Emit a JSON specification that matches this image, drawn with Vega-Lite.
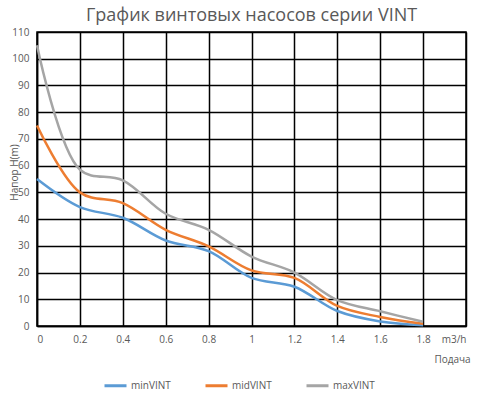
{
  "$schema": "https://vega.github.io/schema/vega-lite/v6.json",
  "autosize": "none",
  "width": 429,
  "height": 294,
  "padding": {"left": 37, "top": 32, "right": 19, "bottom": 91},
  "background": "white",
  "title": {
    "text": "График винтовых насосов серии VINT",
    "font": "Open Sans",
    "fontSize": 18,
    "fontWeight": "normal",
    "color": "#595959",
    "anchor": "middle",
    "offset": 2
  },
  "config": {
    "font": "Open Sans",
    "view": {"stroke": "black", "strokeWidth": 1.5}
  },
  "data": {
    "values": [
      {"q": 0, "h": 55, "s": "minVINT"},
      {"q": 0.2, "h": 44.5, "s": "minVINT"},
      {"q": 0.4, "h": 40.5, "s": "minVINT"},
      {"q": 0.6, "h": 32, "s": "minVINT"},
      {"q": 0.8, "h": 28, "s": "minVINT"},
      {"q": 1.0, "h": 18, "s": "minVINT"},
      {"q": 1.2, "h": 14.7, "s": "minVINT"},
      {"q": 1.4, "h": 5.6, "s": "minVINT"},
      {"q": 1.6, "h": 1.7, "s": "minVINT"},
      {"q": 1.8, "h": 0.3, "s": "minVINT"},
      {"q": 0, "h": 75, "s": "midVINT"},
      {"q": 0.2, "h": 50, "s": "midVINT"},
      {"q": 0.4, "h": 46, "s": "midVINT"},
      {"q": 0.6, "h": 36, "s": "midVINT"},
      {"q": 0.8, "h": 29.8, "s": "midVINT"},
      {"q": 1.0, "h": 20.8, "s": "midVINT"},
      {"q": 1.2, "h": 18, "s": "midVINT"},
      {"q": 1.4, "h": 7.5, "s": "midVINT"},
      {"q": 1.6, "h": 3.4, "s": "midVINT"},
      {"q": 1.8, "h": 0.8, "s": "midVINT"},
      {"q": 0, "h": 105, "s": "maxVINT"},
      {"q": 0.2, "h": 58.5, "s": "maxVINT"},
      {"q": 0.4, "h": 54.5, "s": "maxVINT"},
      {"q": 0.6, "h": 42, "s": "maxVINT"},
      {"q": 0.8, "h": 36, "s": "maxVINT"},
      {"q": 1.0, "h": 26, "s": "maxVINT"},
      {"q": 1.2, "h": 20, "s": "maxVINT"},
      {"q": 1.4, "h": 9.7, "s": "maxVINT"},
      {"q": 1.6, "h": 5.5, "s": "maxVINT"},
      {"q": 1.8, "h": 1.6, "s": "maxVINT"}
    ]
  },
  "mark": {"type": "line", "interpolate": "catmull-rom", "strokeWidth": 2.5},
  "encoding": {
    "x": {
      "field": "q",
      "type": "quantitative",
      "scale": {"domain": [0, 2], "nice": false},
      "axis": {
        "values": [0, 0.2, 0.4, 0.6, 0.8, 1, 1.2, 1.4, 1.6, 1.8, 2],
        "format": "~g",
        "labelExpr": "datum.value == 2 ? 'm3/h' : datum.label",
        "labelFontSize": 10,
        "labelColor": "#595959",
        "labelPadding": 8,
        "ticks": false,
        "domainColor": "black",
        "domainWidth": 1.5,
        "gridColor": "black",
        "gridWidth": 1.5,
        "gridOpacity": 1,
        "title": "Подача",
        "titleFontSize": 10,
        "titleFontWeight": "normal",
        "titleColor": "#595959",
        "titleX": 415,
        "titleY": 36,
        "titleAlign": "center",
        "titleBaseline": "alphabetic"
      }
    },
    "y": {
      "field": "h",
      "type": "quantitative",
      "scale": {"domain": [0, 110], "nice": false},
      "axis": {
        "values": [0, 10, 20, 30, 40, 50, 60, 70, 80, 90, 100, 110],
        "labelFontSize": 10,
        "labelColor": "#595959",
        "labelPadding": 8,
        "ticks": false,
        "domainColor": "black",
        "domainWidth": 1.5,
        "gridColor": "black",
        "gridWidth": 1.5,
        "gridOpacity": 1,
        "title": "Напор  H(m)",
        "titleFontSize": 10,
        "titleFontWeight": "normal",
        "titleColor": "#595959",
        "titleX": -23,
        "titleY": 140,
        "titleAngle": -90,
        "titleAlign": "center",
        "titleBaseline": "middle"
      }
    },
    "color": {
      "field": "s",
      "type": "nominal",
      "scale": {"domain": ["minVINT", "midVINT", "maxVINT"], "range": ["#5B9BD5", "#ED7D31", "#A5A5A5"]},
      "legend": {
        "title": null,
        "orient": "none",
        "direction": "horizontal",
        "legendX": 66,
        "legendY": 341,
        "symbolType": "stroke",
        "symbolSize": 484,
        "symbolStrokeWidth": 3,
        "labelFontSize": 10,
        "labelColor": "#595959",
        "labelOffset": 3,
        "columnPadding": 28
      }
    }
  }
}
